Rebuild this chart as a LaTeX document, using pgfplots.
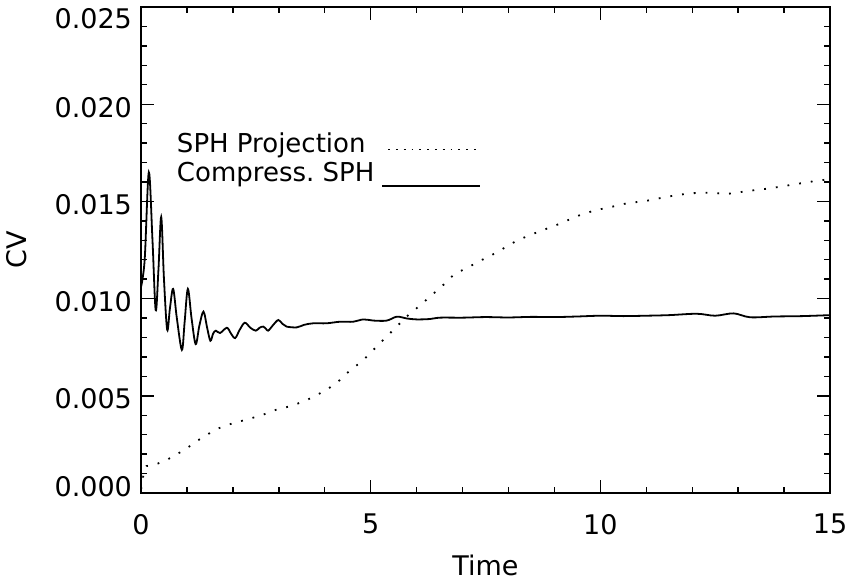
\documentclass[border=0pt]{standalone}
\usepackage{fontspec}
\setmainfont{DejaVu Sans}
\usepackage{pgfplots}
\pgfplotsset{compat=1.18}

\begin{document}
\begin{tikzpicture}
\begin{axis}[
  at={(0pt,0pt)}, anchor=south west,
  scale only axis,
  width=344.5pt, height=243pt,
  xmin=0, xmax=15, ymin=0, ymax=0.025,
  xtick={0,5,10,15},
  ytick={0,0.005,0.010,0.015,0.020,0.025},
  minor x tick num=4, minor y tick num=4,
  scaled y ticks=false,
  /pgf/number format/fixed, /pgf/number format/fixed zerofill,
  /pgf/number format/precision=3,
  /pgf/number format/assume math mode=true,
  yticklabel={\ifnum\ticknum=5\relax
      \raisebox{-6pt}[\height][\depth]{\pgfmathprintnumber{\tick}}%
    \else\ifnum\ticknum=0\relax
      \raisebox{3pt}[\height][\depth]{\pgfmathprintnumber{\tick}}%
    \else
      \raisebox{-1.5pt}[\height][\depth]{\pgfmathprintnumber{\tick}}%
    \fi\fi},
  xticklabel={\pgfmathprintnumber[fixed, precision=0]{\tick}},
  tick label style={font=\fontsize{13.5}{16}\selectfont},
  xticklabel style={yshift=-7pt},
  yticklabel style={xshift=-1pt},
  tick align=inside,
  major tick length=6.5pt, minor tick length=3pt,
  every tick/.style={black, line width=0.7pt},
  axis line style={line width=1pt},
  xlabel={Time}, ylabel={CV},
  label style={font=\fontsize{13.5}{16}\selectfont},
  xlabel style={at={(axis description cs:0.5,0)}, anchor=center, yshift=-36pt},
  ylabel style={at={(axis description cs:0,0.5)}, anchor=center, yshift=62pt},
  clip=true,
]
% Compress. SPH (solid)
\addplot[black, line width=0.9pt, smooth, tension=0.55] coordinates {
  (0.00,0.0106) (0.08,0.0120) (0.17,0.0165) (0.25,0.0130) (0.32,0.0094)
  (0.38,0.0115) (0.44,0.0142) (0.50,0.0110) (0.57,0.0084) (0.63,0.0095)
  (0.70,0.0105) (0.78,0.0090) (0.89,0.00736) (0.95,0.0088) (1.02,0.0105)
  (1.10,0.0090) (1.19,0.00766) (1.27,0.0086) (1.36,0.00933) (1.44,0.0085)
  (1.51,0.00783) (1.57,0.0082) (1.63,0.00835) (1.72,0.00823) (1.87,0.0085)
  (1.96,0.0082) (2.05,0.00797) (2.15,0.0084) (2.26,0.00876) (2.38,0.0085)
  (2.50,0.00835) (2.58,0.0085) (2.66,0.00856) (2.72,0.00845) (2.77,0.00835)
  (2.88,0.00865) (2.99,0.0089) (3.08,0.0087) (3.17,0.00856) (3.39,0.00852)
  (3.55,0.00865) (3.75,0.00873) (4.04,0.00873) (4.33,0.00881) (4.62,0.00881)
  (4.84,0.00893) (5.06,0.00887) (5.35,0.00887) (5.57,0.00907) (5.78,0.00898)
  (6.00,0.00893) (6.29,0.00895) (6.51,0.00902) (7.00,0.00902) (7.50,0.00905)
  (8.00,0.00903) (8.50,0.00906) (9.00,0.00905) (9.50,0.00908) (10.00,0.00912)
  (10.50,0.00910) (11.00,0.00912) (11.50,0.00915) (12.10,0.00922) (12.50,0.00912)
  (12.90,0.00924) (13.26,0.00904) (13.80,0.00908) (14.40,0.00910) (15.00,0.00915)
};
% SPH Projection (dotted)
\addplot[black, line width=0.9pt, dash pattern=on 0.9pt off 5pt] coordinates {
  (0.00,0.0002) (0.03,0.00041) (0.05,0.00093) (0.12,0.00139) (0.27,0.00142)
  (0.56,0.00170) (0.94,0.00221) (1.36,0.00290) (1.69,0.00333) (2.01,0.00360)
  (2.34,0.00380) (2.66,0.00403) (2.96,0.00430) (3.28,0.00448) (3.61,0.00478)
  (3.75,0.00495) (4.04,0.00530) (4.33,0.00581) (4.48,0.00616) (4.84,0.00684)
  (5.20,0.00770) (5.49,0.00838) (5.78,0.00907) (6.11,0.00972) (6.33,0.01018)
  (6.58,0.01070) (6.84,0.01130) (7.09,0.01156) (7.34,0.01190) (7.60,0.01219)
  (7.89,0.01258) (8.18,0.01298) (8.47,0.01327) (8.76,0.01353) (9.05,0.01379)
  (9.34,0.01408) (9.60,0.01434) (9.92,0.01456) (10.21,0.01470) (10.57,0.01490)
  (11.01,0.01503) (11.45,0.01524) (11.95,0.01542) (12.39,0.01545) (12.75,0.01538)
  (13.26,0.01555) (13.69,0.01567) (14.13,0.01584) (14.57,0.01601) (15.00,0.01615)
};
% legend
\node[anchor=base west, inner sep=0pt, font=\fontsize{13}{15}\selectfont] at (axis cs:0.775,0.01749) {SPH Projection};
\node[anchor=base west, inner sep=0pt, font=\fontsize{13}{15}\selectfont] at (axis cs:0.775,0.01600) {Compress.\ SPH};
\draw[black, line width=0.9pt, dash pattern=on 0.9pt off 3pt] (axis cs:5.38,0.01767) -- (axis cs:7.34,0.01767);
\draw[black, line width=0.9pt] (axis cs:5.25,0.01580) -- (axis cs:7.38,0.01580);
\end{axis}
\pgfresetboundingbox
\path[use as bounding box] (-70.5pt,-43pt) rectangle (356.5pt,246.5pt);
\end{tikzpicture}
\end{document}
